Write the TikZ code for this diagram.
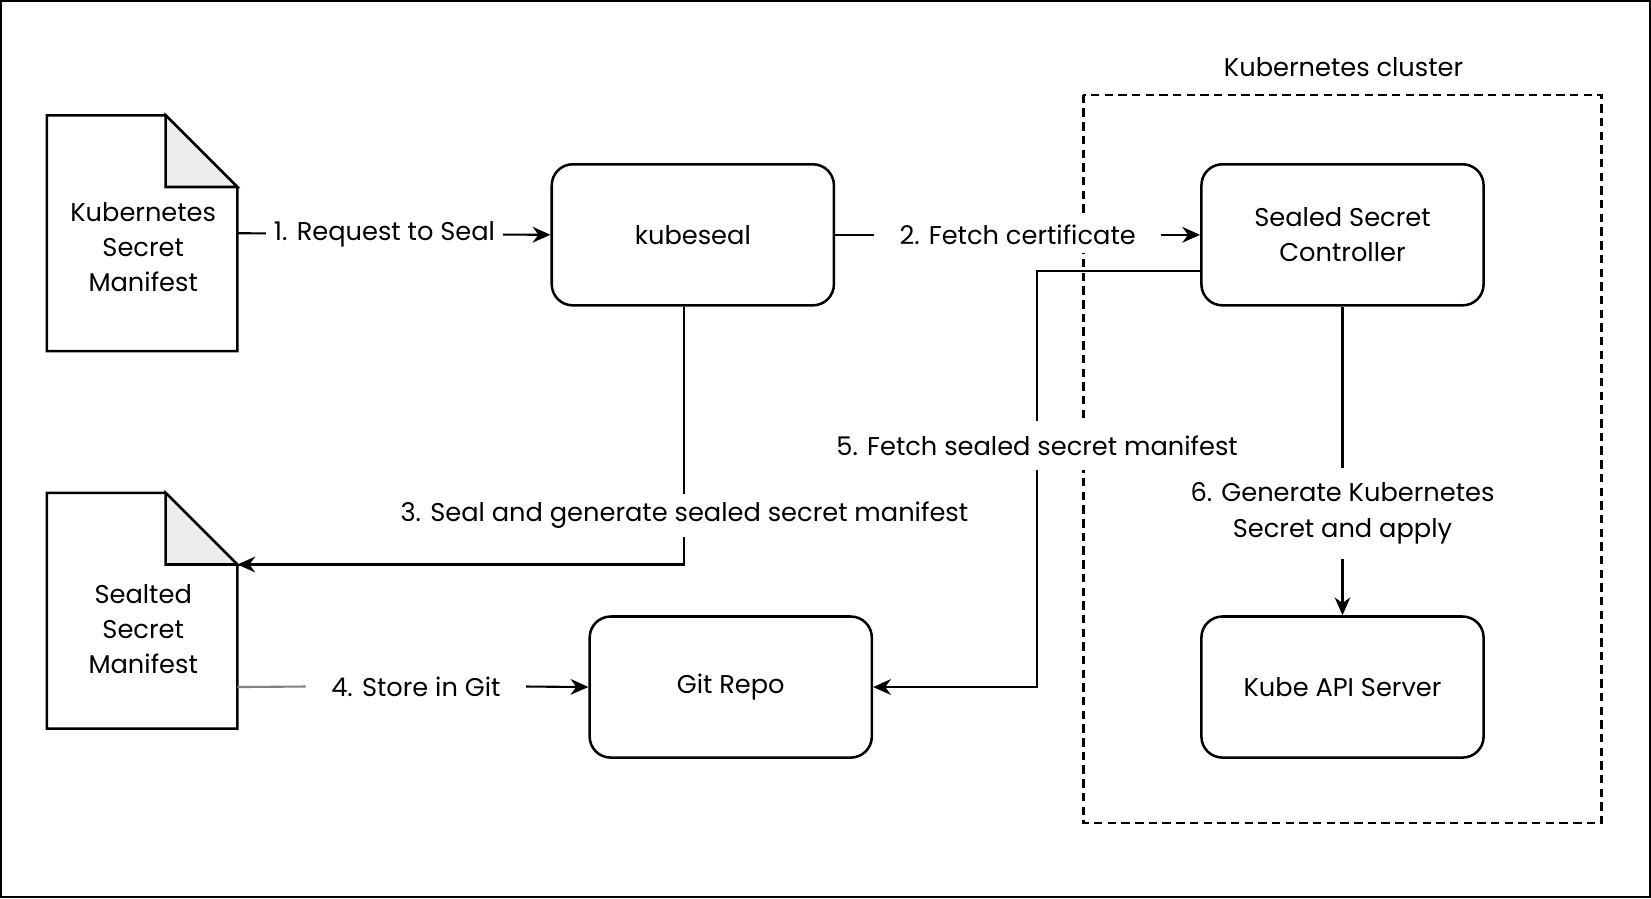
\documentclass[tikz,border=0pt]{standalone}
\usepackage{fontspec}
\setmainfont{Poppins}
\usetikzlibrary{arrows.meta}

\tikzset{
  box/.style={draw, line width=1.2pt, rounded corners=10pt, minimum width=134pt, minimum height=67pt, align=center, inner sep=0pt},
  docbox/.style={minimum width=90pt, minimum height=111.5pt, inner sep=0pt},
  lbl/.style={fill=white, inner sep=4pt, align=center},
  flow/.style={line width=1pt, -{Stealth[length=8.5pt,width=7.5pt]}},
}

\begin{document}
\begin{tikzpicture}[x=0.5pt, y=-0.5pt, font=\fontsize{12.2}{16.75}\selectfont]
\useasboundingbox (0,0) rectangle (1568,853);
\draw[line width=1.2pt] (1,1) rectangle (1567,852);
% cluster
\draw[dash pattern=on 4pt off 2.5pt, line width=1pt] (1029,90) rectangle (1521,782);
\node (cl) at (1276,64) {Kubernetes cluster};
% documents
\node[docbox] (ksm) at (135,221.5) {};
\node[docbox] (ssm) at (135,580) {};
\foreach \d in {ksm,ssm}{
\draw[line width=1.2pt] (\d.south west) -- (\d.north west) -- ([xshift=-34pt]\d.north east) -- ([yshift=-34pt]\d.north east) -- (\d.south east) -- cycle;
\draw[line width=1.2pt, fill=gray!15] ([xshift=-34pt]\d.north east) -- ([xshift=-34pt,yshift=-34pt]\d.north east) -- ([yshift=-34pt]\d.north east) -- cycle;
}
\node[align=center] (ksm-t) at (136,234.5) {Kubernetes\\Secret\\Manifest};
\node[align=center] (ssm-t) at (136,597.5) {Sealted\\Secret\\Manifest};
\coordinate (fold) at ([yshift=-34pt]ssm.north east);
% boxes
\node[box] (ks) at (658,223) {kubeseal};
\node[box] (ssc) at (1275,223) {Sealed Secret\\Controller};
\node[box] (gr) at (694,652.5) {Git Repo};
\node[box] (kas) at (1275,652.5) {Kube API Server};
% connectors
\draw[flow] (ksm.east) -- node[lbl, pos=.47] {1. Request to Seal} (ks.west);
\draw[flow] (ks.east) -- node[lbl, inner xsep=12pt] {2. Fetch certificate} (ssc.west);
\coordinate (a3) at ([xshift=-4pt]ks.south);
\draw[flow] (a3) -- node[lbl, pos=.81] {3. Seal and generate sealed secret manifest} (a3 |- fold) -- (fold);
\node[lbl, inner xsep=12pt] (l4) at (395,652) {4. Store in Git};
\draw[line width=1pt, gray] (ssm.east |- gr.west) -- (l4.west);
\draw[flow] (l4.east) -- (gr.west);
\coordinate (c5) at ([yshift=-17pt]ssc.west);
\coordinate (b5) at (985,257);
\draw[flow] (c5) -- (b5) -- node[lbl, inner ysep=7pt, pos=.42] {5. Fetch sealed secret manifest} (b5 |- gr.east) -- (gr.east);
\draw[flow] (ssc.south) -- node[lbl, inner ysep=7pt, pos=.67] {6. Generate Kubernetes\\Secret and apply} (kas.north);
\end{tikzpicture}
\end{document}
